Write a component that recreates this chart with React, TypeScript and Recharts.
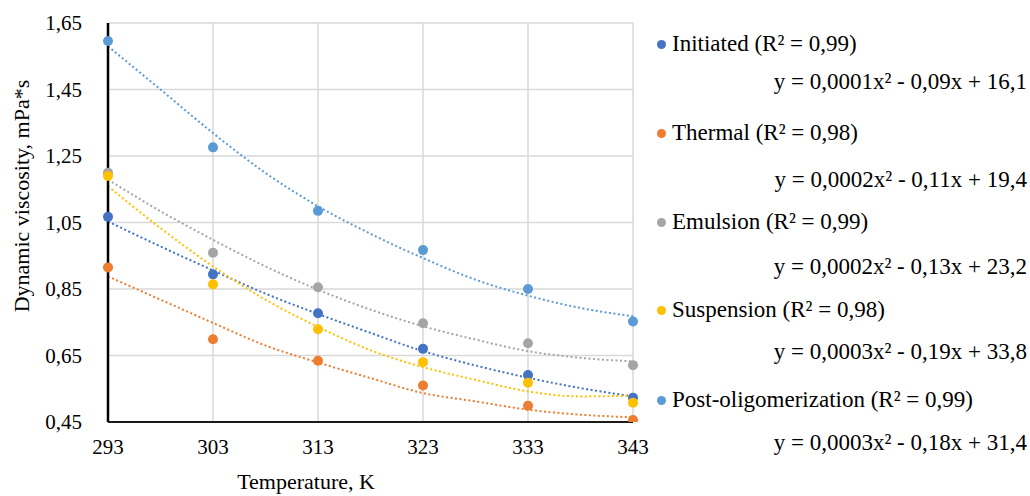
import { ComposedChart, Line, Scatter, XAxis, YAxis, CartesianGrid } from 'recharts'

const FONT = '"Liberation Serif", "DejaVu Serif", serif'

const temps = [293, 303, 313, 323, 333, 343]
const yTicks = [0.45, 0.65, 0.85, 1.05, 1.25, 1.45, 1.65]

// measured points
const initiated = [1.067, 0.894, 0.777, 0.67, 0.591, 0.523]
const thermal = [0.915, 0.699, 0.634, 0.56, 0.499, 0.456]
const emulsion = [1.2, 0.959, 0.855, 0.747, 0.687, 0.621]
const suspension = [1.19, 0.864, 0.729, 0.63, 0.568, 0.508]
const postOligo = [1.596, 1.276, 1.085, 0.967, 0.85, 0.752]

// trendlines, every 5 K
const trendTemps = [293, 298, 303, 308, 313, 318, 323, 328, 333, 338, 343]
const initiatedTrend = [1.053, 0.978, 0.906, 0.836, 0.775, 0.718, 0.663, 0.62, 0.583, 0.552, 0.527]
const thermalTrend = [0.888, 0.818, 0.748, 0.68, 0.629, 0.582, 0.537, 0.512, 0.487, 0.472, 0.464]
const emulsionTrend = [1.179, 1.084, 0.998, 0.918, 0.848, 0.788, 0.738, 0.698, 0.663, 0.643, 0.632]
const suspensionTrend = [1.159, 1.033, 0.918, 0.818, 0.736, 0.666, 0.615, 0.577, 0.542, 0.527, 0.529]
const postOligoTrend = [1.58, 1.45, 1.319, 1.199, 1.099, 1.016, 0.943, 0.878, 0.83, 0.793, 0.768]

const series = [
  { name: 'Initiated', r2: '0,99', eq: '0,0001x² - 0,09x + 16,1', color: '#4472C4', values: initiated, trend: initiatedTrend },
  { name: 'Thermal', r2: '0,98', eq: '0,0002x² - 0,11x + 19,4', color: '#ED7D31', values: thermal, trend: thermalTrend },
  { name: 'Emulsion', r2: '0,99', eq: '0,0002x² - 0,13x + 23,2', color: '#A5A5A5', values: emulsion, trend: emulsionTrend },
  { name: 'Suspension', r2: '0,98', eq: '0,0003x² - 0,19x + 33,8', color: '#FFC000', values: suspension, trend: suspensionTrend },
  { name: 'Post-oligomerization', r2: '0,99', eq: '0,0003x² - 0,18x + 31,4', color: '#5B9BD5', values: postOligo, trend: postOligoTrend },
]

// legend rows (name line, equation line) vertical centres
const legendRows = [
  [44, 82],
  [133, 180],
  [222, 267],
  [310, 352],
  [400, 443],
]

const fmt = (v: number) => v.toFixed(2).replace('.', ',')

const textBase = { fontFamily: FONT, color: '#000', whiteSpace: 'nowrap' as const }

export default function App() {
  const tickStyle = { fill: '#000', fontSize: 21, fontFamily: FONT }
  return (
    <div style={{ position: 'absolute', left: 0, top: 0, width: 1030, height: 496, background: '#fff', overflow: 'hidden', fontFamily: FONT }}>
      <ComposedChart width={650} height={496} margin={{ top: 23, right: 17, bottom: 0, left: 0 }} style={{ fontFamily: FONT }}>
        <CartesianGrid stroke="#d9d9d9" strokeWidth={1.5} />
        <XAxis
          type="number"
          dataKey="x"
          domain={[293, 343]}
          ticks={temps}
          height={74}
          tickLine={false}
          tickSize={0}
          tickMargin={17}
          axisLine={{ stroke: '#1a1a1a', strokeWidth: 2 }}
          tick={tickStyle}
        />
        <YAxis
          type="number"
          dataKey="y"
          domain={[0.45, 1.65]}
          ticks={yTicks}
          width={108}
          tickLine={false}
          tickSize={0}
          tickMargin={26}
          tickFormatter={fmt}
          axisLine={{ stroke: '#000', strokeWidth: 2.5 }}
          tick={tickStyle}
          allowDataOverflow
        />
        {series.map((s) => (
          <Line
            key={s.name + '-trend'}
            data={trendTemps.map((t, i) => ({ x: t, y: s.trend[i] }))}
            dataKey="y"
            type="monotone"
            stroke={s.color}
            strokeWidth={2}
            strokeDasharray="2 2.5"
            dot={false}
            activeDot={false}
            isAnimationActive={false}
          />
        ))}
        {series.map((s) => (
          <Scatter
            key={s.name}
            data={temps.map((t, i) => ({ x: t, y: s.values[i] }))}
            dataKey="y"
            fill={s.color}
            isAnimationActive={false}
            shape={(p: any) => <circle cx={p.cx} cy={p.cy} r={5} fill={s.color} />}
          />
        ))}
      </ComposedChart>

      <div
        style={{
          ...textBase,
          position: 'absolute',
          left: 22,
          top: 196,
          transform: 'translate(-50%, -50%) rotate(-90deg)',
          fontSize: 22,
        }}
      >
        Dynamic viscosity, mPa*s
      </div>
      <div
        style={{
          ...textBase,
          position: 'absolute',
          left: 306,
          top: 470,
          transform: 'translateX(-50%)',
          fontSize: 22,
          lineHeight: '24px',
        }}
      >
        Temperature, K
      </div>

      {series.map((s, i) => (
        <div key={s.name + '-legend'}>
          <div
            style={{
              ...textBase,
              position: 'absolute',
              left: 657,
              top: legendRows[i][0] - 14,
              height: 28,
              display: 'flex',
              alignItems: 'center',
              fontSize: 23,
            }}
          >
            <span style={{ display: 'inline-block', width: 9, height: 9, borderRadius: '50%', background: s.color, marginRight: 6 }} />
            {s.name} (R² = {s.r2})
          </div>
          <div
            style={{
              ...textBase,
              position: 'absolute',
              right: 3,
              top: legendRows[i][1] - 14,
              height: 28,
              lineHeight: '28px',
              fontSize: 23,
            }}
          >
            y = {s.eq}
          </div>
        </div>
      ))}
    </div>
  )
}
